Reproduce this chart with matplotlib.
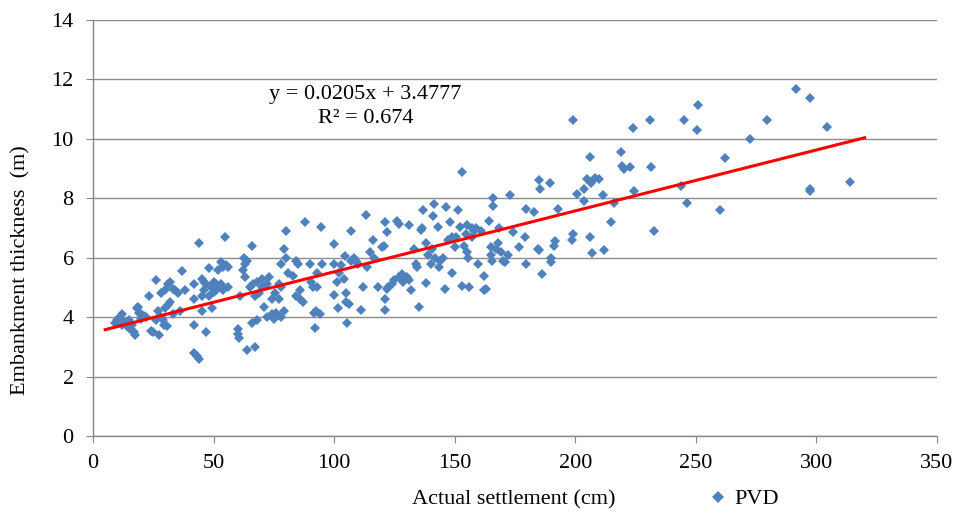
import matplotlib
matplotlib.use("Agg")
import matplotlib.pyplot as plt
import numpy as np

# Scatter data: actual settlement (cm) vs embankment thickness (m)
settlement = [
    9, 10, 11, 12, 12, 13, 14, 15, 15.5, 16, 17, 17.5, 18, 18.5, 19, 20, 20, 21, 22, 23,
    24, 25, 26, 26, 27, 27.5, 28, 28, 29, 29.5, 30, 30, 30.5, 31, 31, 32, 32, 33, 33, 34,
    35, 36, 37, 38, 42, 42, 42, 42, 43, 44, 44, 45, 45, 45, 46, 46, 47, 47, 48, 48,
    49, 49.5, 50, 50, 51, 51, 52, 52, 53, 53, 54, 54, 54.5, 55, 56, 56, 60, 60, 60.5, 61,
    62, 62.5, 63, 63, 64, 64, 65, 66, 66, 66.5, 67, 67, 68, 68, 69, 70, 70, 71, 72, 72,
    73, 74, 74, 75, 75.5, 76, 77, 77, 78, 78, 78, 79, 79, 80, 80, 81, 83, 84, 84, 85,
    86, 86, 87, 88, 90, 90.5, 91, 91.5, 92, 92.5, 93, 93, 94, 94.5, 95, 100, 100, 100, 101, 101.5,
    102, 103, 104, 104.5, 105, 105, 105.5, 106, 107, 107, 108, 109, 110, 111, 112, 113, 113.5, 115,
    116, 116.5, 118, 120, 120.5, 121, 121, 121, 122, 122, 122.5, 124, 125, 126, 127, 127, 128, 128.5,
    130, 131, 131, 132, 133, 134, 134.5, 135, 136, 136.5, 137, 138, 138, 139, 140, 140.5, 141, 141.5,
    142, 143, 143.5, 144, 145, 146, 146.5, 147, 148, 149, 149, 150, 150.5, 151.5, 152, 153, 153, 154,
    154.5, 155, 155, 155.5, 156, 157, 157, 158, 159, 159.5, 161, 162, 162, 163, 164, 165, 165, 165.5,
    166, 166, 167, 168, 168.5, 169, 170, 171, 172, 173, 174, 176.5, 179, 179.5, 179.5, 183, 184.5, 185,
    185, 185.5, 186, 189.5, 190, 190, 191, 191.5, 193, 198.5, 199, 199, 200.5, 203.5, 203.5, 205, 206, 206,
    206.5, 207, 208, 210, 211.5, 212, 215, 216, 219, 219.5, 220, 222.5, 224, 224.5, 231, 231.5, 232.5, 244,
    245, 246.5, 250.5, 251, 260, 262, 272.5, 279.5, 291.5, 297.5, 297.5, 297.5, 304.5, 314,
]
thickness = [
    3.8, 3.9, 4.0, 4.1, 3.75, 3.85, 3.7, 3.9, 3.6, 3.75, 3.5, 3.4, 4.3, 4.35, 4.15, 4.1, 3.95, 4.05, 4.0, 4.7,
    3.55, 3.5, 5.25, 3.9, 4.2, 3.4, 4.8, 4.0, 3.9, 3.75, 4.9, 4.3, 3.7, 5.1, 4.4, 5.2, 4.5, 4.95, 4.1, 4.9,
    4.8, 4.2, 5.55, 4.9, 5.1, 4.6, 3.75, 2.8, 2.7, 6.5, 2.58, 5.3, 4.7, 4.2, 5.2, 4.9, 3.5, 5.1, 5.65, 4.7,
    5.0, 4.3, 5.2, 4.85, 5.1, 4.9, 5.6, 5.0, 5.85, 5.1, 5.7, 4.9, 6.7, 5.75, 5.7, 5.0, 3.6, 3.45, 3.3, 4.7,
    5.6, 6.0, 5.35, 5.8, 5.9, 2.88, 5.0, 6.4, 3.8, 5.1, 3.0, 4.7, 5.2, 3.9, 4.8, 5.3, 5.0, 4.35, 5.1, 4.0,
    5.35, 4.6, 4.1, 3.95, 4.8, 4.15, 5.1, 4.6, 5.8, 5.0, 4.0, 4.2, 6.3, 6.9, 6.0, 5.5, 5.4, 4.7, 5.9, 5.8,
    4.9, 4.6, 4.5, 7.2, 5.8, 5.2, 5.0, 4.15, 3.65, 4.2, 5.5, 5.0, 4.1, 7.05, 5.8, 6.45, 5.8, 4.75, 5.2, 4.3,
    5.5, 5.75, 5.3, 6.05, 4.8, 4.5, 3.8, 4.45, 6.9, 5.9, 6.0, 5.9, 5.8, 4.25, 5.0, 7.45, 5.7, 6.2,
    6.6, 6.0, 5.0, 6.35, 6.4, 7.2, 4.6, 4.25, 6.85, 4.95, 5.0, 5.1, 5.25, 7.25, 7.15, 5.35, 5.45, 5.2,
    5.35, 7.1, 5.25, 4.9, 6.3, 5.8, 5.7, 4.35, 6.95, 7.0, 7.6, 5.15, 6.5, 6.1, 5.8, 6.3, 7.4, 7.8,
    6.0, 7.05, 5.7, 5.9, 6.0, 4.95, 7.7, 6.6, 7.2, 5.5, 6.7, 6.35, 6.7, 7.6, 7.05, 8.9, 5.05, 6.4,
    6.8, 7.1, 6.2, 6.0, 5.0, 6.7, 7.0, 6.9, 7.0, 5.8, 6.9, 5.4, 4.9, 4.95, 7.25, 6.35, 6.1, 5.9,
    8.0, 7.75, 6.3, 6.5, 7.0, 6.2, 5.9, 5.85, 6.1, 8.1, 6.85, 6.35, 6.7, 7.65, 5.8, 7.55, 6.3, 6.25,
    8.6, 8.3, 5.45, 8.5, 5.85, 6.0, 6.4, 6.55, 7.65, 6.6, 6.8, 10.65, 8.15, 8.3, 7.9, 8.65, 9.4, 6.7,
    8.5, 6.15, 8.7, 8.65, 8.1, 6.25, 7.2, 7.85, 9.55, 9.1, 9.0, 9.05, 10.35, 8.25, 10.65, 9.05, 6.9, 8.4,
    10.65, 7.85, 10.3, 11.15, 7.6, 9.35, 9.98, 10.65, 11.68, 11.38, 8.3, 8.25, 10.4, 8.55,
]

# Linear trend line (from the chart's equation)
slope = 0.0205
intercept = 3.4777
trend_x = [5, 320]
r_squared = 0.674

x_ticks = [0, 50, 100, 150, 200, 250, 300, 350]
y_ticks = [0, 2, 4, 6, 8, 10, 12, 14]

plt.rcParams['font.family'] = ['Liberation Serif', 'DejaVu Serif']
FS = 16

fig = plt.figure(figsize=(9.6, 5.13), dpi=100)
ax = fig.add_axes([0.097, 0.150, 0.879, 0.811])

ax.plot(settlement, thickness, linestyle='none', marker='D', markersize=5.5,
        color='#4F81BD', markeredgewidth=0, zorder=3, label='PVD')

tx = np.array(trend_x, dtype=float)
ax.plot(tx, slope * tx + intercept, color='#FF0000', linewidth=2.2, zorder=4)

ax.set_xlim(0, 350)
ax.set_ylim(0, 14)
ax.set_xticks(x_ticks)
ax.set_yticks(y_ticks)
ax.tick_params(axis='both', labelsize=FS, direction='out', length=5, color='#868686')
ax.tick_params(axis='x', pad=8)
ax.tick_params(axis='y', pad=9)

ax.yaxis.grid(True, color='#8c8c8c', linewidth=1.0)
ax.set_axisbelow(True)
for s in ['top', 'right']:
    ax.spines[s].set_visible(False)
for s in ['left', 'bottom']:
    ax.spines[s].set_color('#868686')
    ax.spines[s].set_linewidth(1.0)

fig.text(21 / 960, 1 - 270 / 513, 'Embankment thickness  (m)', fontsize=FS,
         rotation=90, ha='center', va='center')
fig.text(514 / 960, 1 - 500 / 513, 'Actual settlement (cm)', fontsize=FS,
         ha='center', va='center')

fig.legend(loc='center left', bbox_to_anchor=(711 / 960, 1 - 499 / 513), frameon=False,
           fontsize=FS, handlelength=0.6, handletextpad=0.45, borderpad=0,
           borderaxespad=0, markerscale=1.15)

ax.text(113, 11.48, 'y = 0.0205x + 3.4777', fontsize=FS, ha='center', va='center')
ax.text(113, 10.70, 'R\u00b2 = %.3f' % r_squared, fontsize=FS, ha='center', va='center')

fig.savefig('out.png', dpi=100)
